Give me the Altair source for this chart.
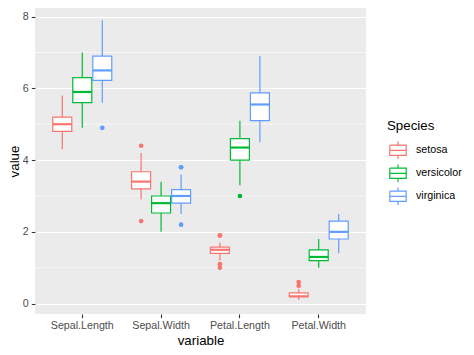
import altair as alt
import pandas as pd

variables = ["Sepal.Length", "Sepal.Width", "Petal.Length", "Petal.Width"]
species = ["setosa", "versicolor", "virginica"]
colors = ["#F8766D", "#00BA38", "#619CFF"]

# box statistics per variable (rows) and species (columns)
lower = [[4.3, 4.9, 5.6], [2.9, 2.0, 2.5], [1.2, 3.3, 4.5], [0.1, 1.0, 1.4]]
q1 = [[4.8, 5.6, 6.225], [3.2, 2.525, 2.8], [1.4, 4.0, 5.1], [0.2, 1.2, 1.8]]
median = [[5.0, 5.9, 6.5], [3.4, 2.8, 3.0], [1.5, 4.35, 5.55], [0.2, 1.3, 2.0]]
q3 = [[5.2, 6.3, 6.9], [3.675, 3.0, 3.175], [1.575, 4.6, 5.875], [0.3, 1.5, 2.3]]
upper = [[5.8, 7.0, 7.9], [4.2, 3.4, 3.6], [1.7, 5.1, 6.9], [0.4, 1.8, 2.5]]

out_variable = ["Sepal.Length", "Sepal.Width", "Sepal.Width", "Sepal.Width", "Sepal.Width",
                "Sepal.Width", "Petal.Length", "Petal.Length", "Petal.Length", "Petal.Length",
                "Petal.Length", "Petal.Width", "Petal.Width"]
out_species = ["virginica", "setosa", "setosa", "virginica", "virginica",
               "virginica", "setosa", "setosa", "setosa", "setosa",
               "versicolor", "setosa", "setosa"]
out_value = [4.9, 4.4, 2.3, 3.8, 3.8, 2.2, 1.0, 1.1, 1.9, 1.9, 3.0, 0.5, 0.6]

minor_grid = [1, 3, 5, 7]

rows = []
for i, v in enumerate(variables):
    for j, s in enumerate(species):
        rows.append(dict(variable=v, Species=s, lower=lower[i][j], q1=q1[i][j],
                         median=median[i][j], q3=q3[i][j], upper=upper[i][j]))
stats = pd.DataFrame(rows)
outl = pd.DataFrame(dict(variable=out_variable, Species=out_species, value=out_value))
minor = pd.DataFrame(dict(m=minor_grid))

# boxplot key glyph drawn as a zero-area outline (traced forth and back)
box_path = ("M-0.8,-0.5H0.8V0.5H-0.8V-0.5V0.5H0.8V-0.5H-0.8 "
            "M-0.8,0H0.8H-0.8 M0,-0.5V-0.85V-0.5 M0,0.5V0.85V0.5")

LABEL = 10.7
TITLE = 13.3

x_enc = alt.X("variable:N", sort=variables, title="variable",
              scale=alt.Scale(paddingInner=0, paddingOuter=0.1),
              axis=alt.Axis(labelAngle=0, labelPadding=3, titlePadding=3))
xo_enc = alt.XOffset("Species:N", sort=species,
                     scale=alt.Scale(domain=species, paddingInner=0, paddingOuter=0.47))
y_scale = alt.Scale(domain=[-0.29, 8.24], nice=False, zero=False)
y_axis = alt.Axis(values=[0, 2, 4, 6, 8], labelPadding=3, titlePadding=1)

stroke_enc = alt.Stroke("Species:N", sort=species,
                        scale=alt.Scale(domain=species, range=colors),
                        legend=alt.Legend(title="Species", orient="none", legendX=352, legendY=111,
                                          symbolType=box_path, symbolSize=420,
                                          symbolFillColor="white", symbolStrokeWidth=1.2,
                                          labelFontSize=LABEL, titleFontSize=TITLE,
                                          titleFontWeight="normal", labelColor="black",
                                          titleColor="black", titlePadding=7,
                                          rowPadding=-4.5, labelOffset=7, padding=0))
color_enc = alt.Color("Species:N", sort=species,
                      scale=alt.Scale(domain=species, range=colors), legend=None)

grid_minor = alt.Chart(minor).mark_rule(color="white", strokeWidth=0.6).encode(
    y=alt.Y("m:Q", scale=y_scale, axis=y_axis, title="value"))

whisk = alt.Chart(stats).mark_rule(strokeWidth=1.2).encode(
    x=x_enc, xOffset=xo_enc,
    y=alt.Y("lower:Q", scale=y_scale, axis=y_axis, title="value"),
    y2="upper:Q", stroke=stroke_enc)

box_fill = alt.Chart(stats).mark_bar(width=19, color="white").encode(
    x=x_enc, xOffset=xo_enc,
    y=alt.Y("q1:Q", scale=y_scale, axis=y_axis, title="value"),
    y2="q3:Q")

box_line = alt.Chart(stats).mark_bar(width=19, filled=False, strokeWidth=1.2).encode(
    x=x_enc, xOffset=xo_enc,
    y=alt.Y("q1:Q", scale=y_scale, axis=y_axis, title="value"),
    y2="q3:Q", stroke=stroke_enc)

med = alt.Chart(stats).mark_tick(size=19, thickness=2.2, opacity=1).encode(
    x=x_enc, xOffset=xo_enc,
    y=alt.Y("median:Q", scale=y_scale, axis=y_axis, title="value"),
    color=color_enc)

pts = alt.Chart(outl).mark_circle(size=22, opacity=1).encode(
    x=x_enc, xOffset=xo_enc,
    y=alt.Y("value:Q", scale=y_scale, axis=y_axis, title="value"),
    color=color_enc)

chart = alt.layer(grid_minor, whisk, box_fill, box_line, med, pts).properties(
    width=331, height=306,
    autosize=alt.AutoSizeParams(type="none"),
    padding={"left": 27, "top": 0, "right": 100, "bottom": 38},
).configure_view(fill="#EBEBEB", stroke=None).configure_axis(
    domain=False, gridColor="white", gridWidth=1.1, tickColor="#333333",
    tickSize=3.7, tickWidth=1.1, labelColor="#4D4D4D", labelFontSize=LABEL,
    labelFont="Liberation Sans", titleFont="Liberation Sans", titleFontSize=TITLE,
    titleFontWeight="normal", titleColor="black",
).configure_legend(labelFont="Liberation Sans", titleFont="Liberation Sans")

chart.save("out.html", embed_options={"renderer": "svg", "actions": False})
